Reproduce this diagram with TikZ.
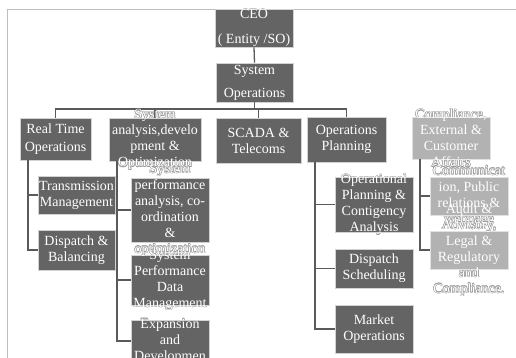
\documentclass[tikz,border=0pt]{standalone}
\usepackage{fontspec}
\setmainfont{Liberation Serif}
\definecolor{boxdk}{RGB}{100,100,100}
\definecolor{bordk}{RGB}{210,210,210}
\definecolor{boxlt}{RGB}{178,178,178}
\definecolor{borlt}{RGB}{225,225,225}
\definecolor{conncol}{RGB}{90,90,90}
\definecolor{halo}{RGB}{155,155,155}
\definecolor{framecol}{RGB}{190,190,190}
\tikzset{
  txt/.style={align=center,font=\fontsize{14}{16}\selectfont,text=white,inner sep=0pt},
  orgbox/.style={inner sep=0pt,line width=0.8pt},
  dk/.style={fill=boxdk,draw=bordk},
  lt/.style={fill=boxlt,draw=borlt},
  conn/.style={draw=conncol,line width=1.3pt},
}
\newcommand\boxlist{%
 \B{ceo}{254}{28}{78}{38}{dk}{CEO\\[9pt]( Entity /SO)}%
 \B{sysops}{254.5}{82.5}{77}{39}{dk}{System\\[7pt]Operations}%
 \B{rto}{55.5}{139}{71}{42}{dk}{Real Time\\[2pt]Operations}%
 \B{sysana}{155}{139.5}{92}{43}{dk}{System\\analysis,develo\\pment \&\\Optimization}%
 \B{scada}{258.5}{140.5}{85}{45}{dk}{SCADA \&\\Telecoms}%
 \B{opsplan}{346.5}{139.5}{79}{45}{dk}{Operations\\Planning}%
 \B{compl}{451}{138}{78}{42}{lt}{Compliance,\\External \&\\Customer\\Affairs}%
 \B{tm}{76.5}{195}{77}{38}{dk}{Transmission\\Management}%
 \B{db}{76.5}{250}{77}{40}{dk}{Dispatch \&\\Balancing}%
 \B{spa}{170}{210}{78}{64}{dk}{System\\performance\\analysis, co-\\ordination\\\&\\optimization}%
 \B{spdm}{170}{280}{78}{50}{dk}{System\\Performance\\Data\\Management}%
 \B{exp}{170}{341}{78}{42}{dk}{Expansion\\and\\Developmen}%
 \B{opc}{374}{204.5}{78}{55}{dk}{Operational\\Planning \&\\Contigency\\Analysis}%
 \B{ds}{374}{268.5}{78}{39}{dk}{Dispatch\\Scheduling}%
 \B{mo}{374}{329}{78}{48}{dk}{Market\\Operations}%
 \B{comm}{469}{196}{78}{38}{lt}{Communicat\\ion, Public\\relations \&\\webpage}%
 \B{legal}{469}{250}{78}{38}{lt}{Audit \&\\Advisory,\\Legal \&\\Regulatory\\and\\Compliance.}%
}
\begin{document}
\begin{tikzpicture}[x=1pt,y=-1pt]
\useasboundingbox (0,0) rectangle (516,358);
\fill[white] (0,0) rectangle (516,358);
\draw[framecol,line width=0.8pt] (7,360) -- (7,9) -- (518,9);
% pass 1: halos of the texts
\def\B#1#2#3#4#5#6#7{\foreach \dx/\dy in {0.55/0,-0.55/0,0/0.55,0/-0.55,0.4/0.4,-0.4/0.4,0.4/-0.4,-0.4/-0.4}{\node[txt,text=halo,xshift=\dx pt,yshift=\dy pt] at (#2,#3) {#7};}}
\boxlist
% pass 2: boxes
\def\B#1#2#3#4#5#6#7{\node[orgbox,#6,minimum width=#4pt,minimum height=#5pt] (#1) at (#2,#3) {};}
\boxlist
% connectors
\coordinate (bus) at (254.5,109);
\draw[conn] (ceo.south) -- (sysops.north);
\draw[conn] (sysops.south) -- (bus);
\draw[conn] (bus) -| (rto.north);
\draw[conn] (bus) -| (sysana.north);
\draw[conn] (bus) -| (scada.north);
\draw[conn] (bus) -| (opsplan.north);
\coordinate (sp1) at (28,160);
\draw[conn] (sp1) |- (tm.west);
\draw[conn] (sp1) |- (db.west);
\coordinate (sp2) at (117,161);
\draw[conn] (sp2) |- (spa.west);
\draw[conn] (sp2) |- (spdm.west);
\draw[conn] (sp2) |- (exp.west);
\coordinate (sp4) at (315,162);
\draw[conn] (sp4) |- (opc.west);
\draw[conn] (sp4) |- (ds.west);
\draw[conn] (sp4) |- (mo.west);
\coordinate (sp5) at (420,159);
\draw[conn] (sp5) |- (comm.west);
\draw[conn] (sp5) |- (legal.west);
% pass 3: white texts
\def\B#1#2#3#4#5#6#7{\node[txt] at (#2,#3) {#7};}
\boxlist
\end{tikzpicture}
\end{document}
